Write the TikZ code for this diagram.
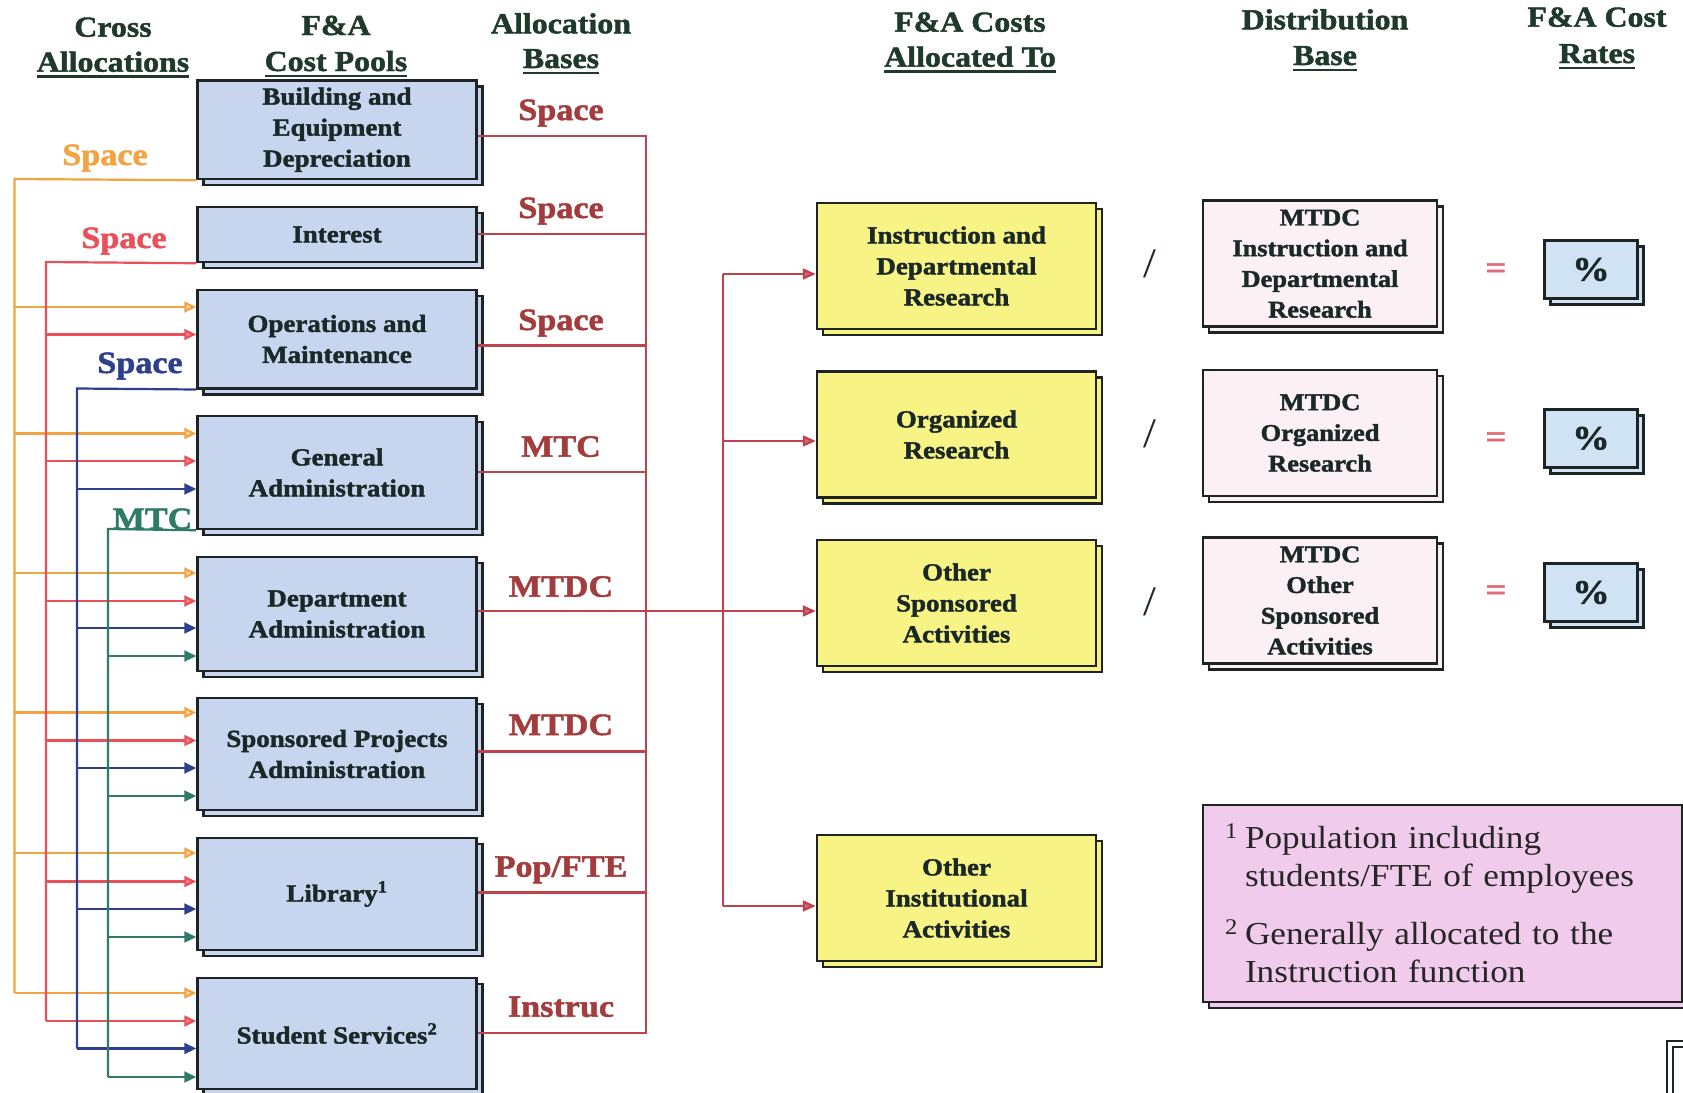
\documentclass[tikz,border=0pt]{standalone}
\usepackage{fontspec}
\setmainfont{Liberation Serif}[FakeStretch=1.1, BoldFeatures={FakeBold=1.6}]
\usetikzlibrary{arrows.meta,shadows}
\definecolor{poolfill}{HTML}{C8D5EE}
\definecolor{boxline}{HTML}{1E2424}
\definecolor{boxtext}{HTML}{1B2828}
\definecolor{headc}{HTML}{1F3A2B}
\definecolor{ylw}{HTML}{F7F384}
\definecolor{dfill}{HTML}{FBF1F4}
\definecolor{pfill}{HTML}{CFE3F4}
\definecolor{notefill}{HTML}{F1CBEC}
\definecolor{alabc}{HTML}{A33C3C}
\definecolor{outl}{HTML}{C0424C}
\definecolor{orangeL}{HTML}{F2A443}
\definecolor{redL}{HTML}{E9505A}
\definecolor{blueL}{HTML}{2E3F8F}
\definecolor{greenL}{HTML}{2F7B68}
\definecolor{eqc}{HTML}{E06A7A}
\newcommand\hul[1]{\setbox0\hbox{#1}\rlap{\rule[-6pt]{\wd0}{2.5pt}}\box0}
\tikzset{
  boxbase/.style={draw=boxline, line width=2.5pt, align=center, inner sep=0pt,
    copy shadow={shadow xshift=6pt, shadow yshift=-6pt}, text=boxtext},
  pool/.style={boxbase, fill=poolfill, minimum width=279pt,
    font=\bfseries\fontsize{24.5}{31}\selectfont},
  ybox/.style={boxbase, fill=ylw, minimum width=279pt, minimum height=126pt,
    font=\bfseries\fontsize{24.5}{31}\selectfont},
  dbox/.style={boxbase, fill=dfill, minimum width=234pt, minimum height=126pt,
    font=\bfseries\fontsize{24}{30.7}\selectfont},
  pbox/.style={boxbase, fill=pfill, minimum width=93pt, minimum height=58pt,
    font=\bfseries\fontsize{34}{34}\selectfont},
  notebox/.style={boxbase, fill=notefill, minimum width=479pt, minimum height=197pt,
    text width=435pt, align=left, inner xsep=22pt, text=black!85,
    font=\fontsize{32}{38.5}\selectfont},
  head/.style={anchor=base, inner sep=0pt, text=headc,
    font=\bfseries\fontsize{29}{35}\selectfont},
  alab/.style={anchor=base, inner sep=0pt, text=alabc,
    font=\bfseries\fontsize{31}{31}\selectfont},
  xlab/.style={anchor=base, inner sep=0pt,
    font=\bfseries\fontsize{31}{31}\selectfont},
  slashc/.style={inner sep=0pt, text=boxtext, font=\fontsize{42}{42}\selectfont},
  eqs/.style={inner sep=0pt, text=eqc, font=\bfseries\fontsize{33}{33}\selectfont},
  outline/.style={draw=outl, line width=2.2pt},
  outarrow/.style={outline, -{Triangle[length=13pt,width=11pt,fill=outl!80]}},
  oline/.style={draw=orangeL, line width=2.2pt},
  rline/.style={draw=redL, line width=2.2pt},
  bline/.style={draw=blueL, line width=2.2pt},
  gline/.style={draw=greenL, line width=2.2pt},
  oarr/.style={oline, -{Triangle[length=12pt,width=11pt,fill=orangeL!45]}},
  rarr/.style={rline, -{Triangle[length=12pt,width=11pt,fill=redL!70]}},
  barr/.style={bline, -{Triangle[length=12pt,width=11pt]}},
  garr/.style={gline, -{Triangle[length=12pt,width=11pt]}},
  frag/.style={draw=boxline, line width=2pt}
}
\begin{document}
\begin{tikzpicture}[x=1pt,y=-1pt]
\useasboundingbox[fill=white] (0,0) rectangle (1683,1092);

% headings
\node[head] (h1a) at (113,36.7) {Cross};
\node[head] (h1b) at (113,71.7) {\hul{Allocations}};
\node[head] (h2a) at (336,35) {F\&A};
\node[head] (h2b) at (336,71) {\hul{Cost Pools}};
\node[head] (h3a) at (561,33.3) {Allocation};
\node[head] (h3b) at (561,68) {\hul{Bases}};
\node[head] (h4a) at (970,31.7) {F\&A Costs};
\node[head] (h4b) at (970,66.7) {\hul{Allocated To}};
\node[head] (h5a) at (1325,29.3) {Distribution};
\node[head] (h5b) at (1325,65) {\hul{Base}};
\node[head] (h6a) at (1597,26.7) {F\&A Cost};
\node[head] (h6b) at (1597,63) {\hul{Rates}};

% cost pools
\node[pool, minimum height=98.5pt] (bed) at (337,129.75) {Building and\\Equipment\\Depreciation};
\node[pool, minimum height=55pt] (int) at (337,234.5) {Interest};
\node[pool, minimum height=98.5pt] (ops) at (337,339) {Operations and\\Maintenance};
\node[pool, minimum height=113pt] (gen) at (337,472.5) {General\\Administration};
\node[pool, minimum height=114pt] (dept) at (337,614) {Department\\Administration};
\node[pool, minimum height=112pt] (spa) at (337,754) {Sponsored Projects\\Administration};
\node[pool, minimum height=112pt] (lib) at (337,894) {Library\textsuperscript{1}};
\node[pool, minimum height=111pt] (stu) at (337,1033.5) {Student Services\textsuperscript{2}};

% allocation bases
\node[alab] (a1) at (561,120) {Space};
\node[alab] (a2) at (561,218) {Space};
\node[alab] (a3) at (561,330) {Space};
\node[alab] (a4) at (561,456.7) {MTC};
\node[alab] (a5) at (561,596.7) {MTDC};
\node[alab] (a6) at (561,735) {MTDC};
\node[alab] (a7) at (561,876.7) {Pop/FTE};
\node[alab] (a8) at (561,1016.7) {Instruc};

% cross allocation labels
\node[xlab, text=orangeL] (x1) at (105,165) {Space};
\node[xlab, text=redL] (x2) at (124,248) {Space};
\node[xlab, text=blueL] (x3) at (140,373) {Space};
\node[xlab, text=greenL] (x4) at (152.5,529) {MTC};

% allocated-to boxes
\node[ybox] (ins) at (956.5,266) {Instruction and\\Departmental\\Research};
\node[ybox] (org) at (956.5,434.5) {Organized\\Research};
\node[ybox] (osa) at (956.5,603) {Other\\Sponsored\\Activities};
\node[ybox] (oia) at (956.5,898) {Other\\Institutional\\Activities};

% distribution bases
\node[dbox] (d1) at (1320,263.7) {MTDC\\Instruction and\\Departmental\\Research};
\node[dbox] (d2) at (1320,433) {MTDC\\Organized\\Research};
\node[dbox] (d3) at (1320,600.5) {MTDC\\Other\\Sponsored\\Activities};

% rates
\node[pbox] (p1) at (1591,269.5) {\%};
\node[pbox] (p2) at (1591,438.3) {\%};
\node[pbox] (p3) at (1591,592.5) {\%};

\node[slashc] (s1) at (1150,264) {/};
\node[slashc] (s2) at (1150,434) {/};
\node[slashc] (s3) at (1150,602) {/};
\node[eqs] (e1) at (1496,271) {=};
\node[eqs] (e2) at (1496,440) {=};
\node[eqs] (e3) at (1496,593) {=};

% footnote box
\node[notebox] (note) at (1442.5,903.5) {%
\makebox[20pt][l]{\textsuperscript{1}}Population including\\
\hspace*{20pt}students/FTE of employees\\[19pt]
\makebox[20pt][l]{\textsuperscript{2}}Generally allocated to the\\
\hspace*{20pt}Instruction function};

% fragment bottom right
\draw[frag] (1667,1041) rectangle (1720,1130);
\draw[frag] (1673,1047) rectangle (1720,1130);

% output lines to trunk
\coordinate (tr1) at (646,136);
\coordinate (tr2) at (646,1033);
\draw[outline] (bed.east |- tr1) -- (tr1) -- (tr2) -- (stu.east |- tr2);
\foreach \n/\y in {int/234, ops/345.5, gen/472, spa/751.5, lib/892.5}
  \draw[outline] (\n.east |- 0,\y) -- (646,\y);
\draw[outarrow] (dept.east |- 0,611) -- (osa.west |- 0,611);
\coordinate (tA) at (723,274);
\coordinate (tB) at (723,906);
\draw[outline] (tA) -- (tB);
\draw[outarrow] (tA) -- (ins.west |- tA);
\draw[outarrow] (723,441) -- (org.west |- 0,441);
\draw[outarrow] (tB) -- (oia.west |- tB);

% cross allocations
\draw[oline] (bed.south west) -- (14.5,179) -- (14.5,993);
\foreach \n/\y in {ops/307, gen/433.5, dept/573, spa/712.5, lib/853, stu/993}
  \draw[oarr] (14.5,\y) -- (\n.west |- 0,\y);
\draw[rline] (int.south west) -- (46,262) -- (46,1021);
\foreach \n/\y in {ops/334.5, gen/461, dept/601, spa/740.5, lib/881.5, stu/1021}
  \draw[rarr] (46,\y) -- (\n.west |- 0,\y);
\draw[bline] (ops.south west) -- (77,388.5) -- (77,1048.5);
\foreach \n/\y in {gen/489, dept/628, spa/768, lib/909, stu/1048.5}
  \draw[barr] (77,\y) -- (\n.west |- 0,\y);
\draw[gline] (gen.south west) -- (108,529) -- (108,1077);
\foreach \n/\y in {dept/656, spa/796, lib/937, stu/1077}
  \draw[garr] (108,\y) -- (\n.west |- 0,\y);
\end{tikzpicture}
\end{document}
